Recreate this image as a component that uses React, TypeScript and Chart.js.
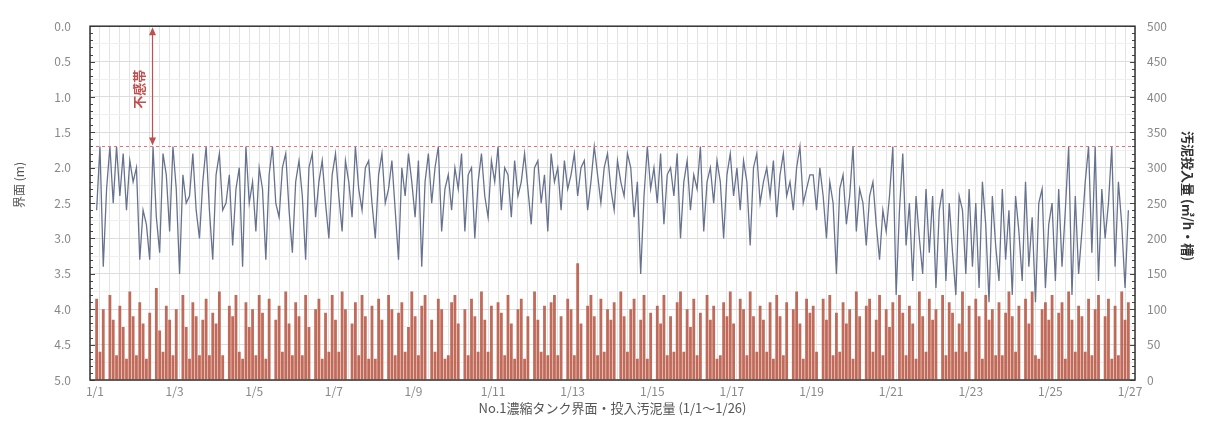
import { useEffect, useRef } from 'react';
import { Chart, registerables } from 'chart.js';

Chart.register(...registerables);

// Readings are taken every 2 hours (12 per day) from 1/1 to 1/26
const SAMPLES_PER_DAY = 12;
const DAY_COUNT = 26;

// X axis tick labels, one every two days
const xTickLabels = ['1/1', '1/3', '1/5', '1/7', '1/9', '1/11', '1/13', '1/15', '1/17', '1/19', '1/21', '1/23', '1/25', '1/27'];

// Interface level of No.1 thickener (m), one row per day
const interfaceLevel: number[] = [
  2.6, 1.7, 3.4, 2.3, 1.7, 2.5, 1.7, 2.4, 1.8, 2.6, 1.9, 2.2,
  2.0, 3.3, 2.6, 2.8, 3.3, 1.7, 2.7, 3.2, 1.8, 2.1, 2.9, 1.7,
  2.3, 3.5, 2.1, 2.5, 2.4, 1.8, 2.6, 3.0, 2.2, 1.7, 2.6, 3.3,
  2.1, 1.8, 2.6, 2.5, 2.1, 3.1, 2.3, 2.0, 3.4, 1.7, 2.5, 2.2,
  2.9, 2.0, 2.3, 3.3, 2.1, 1.7, 2.5, 2.7, 2.0, 1.8, 2.6, 3.2,
  2.2, 1.9, 2.4, 3.3, 2.0, 1.8, 2.7, 2.2, 1.9, 2.5, 3.0, 2.1,
  1.8, 2.4, 2.9, 1.9, 2.2, 2.7, 1.7, 2.3, 2.6, 2.0, 1.9, 2.5,
  3.0, 2.1, 1.8, 2.5, 2.3, 1.9, 2.6, 3.3, 2.0, 2.4, 1.8, 2.2,
  2.7, 1.9, 3.4, 2.2, 1.8, 2.5, 2.0, 1.7, 2.9, 2.3, 2.1, 2.6,
  2.0, 2.3, 1.8, 2.9, 2.1, 2.0, 3.0, 2.2, 1.8, 2.4, 2.7, 1.9,
  2.2, 1.7, 2.6, 2.0, 2.1, 2.7, 1.9, 2.4, 2.2, 1.8, 2.3, 2.8,
  2.0, 1.9, 2.5, 2.1, 2.9, 1.8, 2.2, 2.0, 2.6, 1.9, 2.3, 2.1,
  1.8, 2.4, 2.0, 1.9, 2.6, 2.2, 1.7, 2.1, 2.5, 2.0, 1.8, 2.3,
  2.6, 1.9, 2.2, 2.4, 1.8, 2.0, 2.7, 2.2, 3.5, 2.4, 1.7, 2.3,
  2.0, 2.5, 1.8, 2.8, 2.1, 2.0, 2.4, 1.8, 3.0, 2.2, 1.9, 2.6,
  2.1, 2.3, 1.7, 2.9, 2.2, 2.0, 2.5, 1.9, 2.2, 3.0, 2.1, 1.8,
  2.4, 2.0, 2.6, 1.9, 2.2, 3.1, 2.0, 1.8, 2.5, 2.2, 2.0, 2.4,
  1.9, 2.7, 2.1, 1.8, 2.4, 2.2, 2.6, 2.0, 1.7, 2.5, 2.3, 2.1,
  2.1, 2.6, 2.0, 2.4, 3.0, 2.2, 2.5, 3.5, 2.3, 2.1, 2.8, 2.4,
  1.7, 2.9, 2.3, 2.5, 3.1, 2.4, 2.2, 2.8, 3.3, 2.6, 2.9, 2.4,
  1.7, 3.8, 2.6, 1.8, 3.1, 2.5, 3.6, 2.4, 3.0, 3.5, 2.3, 3.2,
  2.4, 3.7, 2.6, 2.3, 3.6, 2.5, 3.2, 3.8, 2.4, 2.6, 3.5, 2.3,
  3.4, 2.5, 3.7, 2.2, 2.8, 3.9, 2.4, 3.1, 3.6, 2.3, 3.3, 2.6,
  3.8, 2.4, 2.9, 3.6, 2.2, 3.4, 2.7, 3.9, 2.5, 2.3, 3.7, 2.8,
  2.5, 3.6, 2.3, 3.4, 2.6, 1.7, 3.8, 2.4, 3.5, 2.9, 2.2, 1.7,
  3.2, 1.7, 3.6, 2.3, 3.0, 2.5, 1.7, 3.4, 2.2, 2.8, 3.7, 2.6,
];

// Sludge fed to the tank (m3/h per tank), one row per day
const sludgeInput: number[] = [
  115, 40, 100, 0, 120, 85, 35, 105, 75, 30, 125, 90,
  35, 110, 80, 30, 95, 0, 130, 70, 40, 105, 85, 35,
  100, 0, 120, 75, 30, 110, 90, 35, 85, 115, 35, 95,
  80, 125, 35, 0, 105, 90, 120, 40, 30, 110, 75, 100,
  35, 120, 95, 30, 115, 0, 85, 105, 40, 125, 80, 35,
  110, 90, 35, 120, 75, 0, 100, 115, 30, 95, 40, 120,
  85, 40, 125, 100, 0, 80, 110, 35, 120, 90, 30, 105,
  30, 115, 85, 0, 120, 100, 35, 95, 110, 40, 75, 125,
  90, 35, 105, 120, 0, 85, 40, 115, 100, 30, 35, 110,
  120, 80, 0, 100, 35, 115, 90, 40, 125, 85, 40, 105,
  0, 110, 95, 35, 120, 80, 30, 100, 115, 30, 90, 0,
  125, 85, 40, 105, 35, 110, 120, 35, 90, 0, 115, 100,
  35, 165, 80, 0, 105, 120, 90, 35, 115, 40, 100, 85,
  110, 0, 125, 90, 40, 100, 115, 30, 85, 120, 30, 95,
  0, 105, 80, 120, 35, 90, 40, 110, 125, 40, 100, 75,
  115, 35, 95, 0, 120, 85, 105, 30, 35, 110, 90, 125,
  80, 0, 115, 100, 35, 125, 90, 40, 105, 85, 40, 110,
  30, 120, 90, 35, 110, 0, 100, 125, 80, 30, 115, 95,
  105, 40, 0, 115, 85, 120, 35, 95, 40, 110, 80, 100,
  30, 125, 90, 0, 105, 115, 40, 85, 120, 35, 100, 75,
  110, 0, 120, 95, 35, 105, 80, 30, 125, 90, 40, 115,
  85, 100, 0, 120, 35, 110, 95, 40, 80, 125, 40, 105,
  0, 115, 90, 30, 120, 85, 100, 35, 110, 35, 95, 125,
  90, 40, 105, 0, 115, 80, 125, 35, 30, 100, 110, 85,
  120, 0, 95, 110, 30, 125, 85, 40, 105, 90, 40, 115,
  35, 100, 120, 0, 90, 115, 30, 105, 35, 125, 85, 110,
];

// Upper limit of the measurable range (dead band of the level meter)
const DEAD_BAND_LIMIT = 1.7;
const DEAD_BAND_LABEL = '不感帯';
const DEAD_BAND_ARROW_DAY = 1.44;

const LEFT_TITLE = '界面 (m)';
const RIGHT_TITLE = '汚泥投入量 (㎥/h・槽)';
const BOTTOM_TITLE = 'No.1濃縮タンク界面・投入汚泥量 (1/1～1/26)';

const FONT = '"Noto Sans CJK JP", "Noto Sans", sans-serif';

const toXY = (values: number[]) =>
  values.map((v, i) => ({ x: (i + 0.5) / SAMPLES_PER_DAY, y: v }));

const decorations = {
  id: 'decorations',
  afterDatasetsDraw(chart: any) {
    const { ctx, chartArea: a, scales } = chart;
    const ys = scales.y;
    const xs = scales.x;
    const yLimit = ys.getPixelForValue(DEAD_BAND_LIMIT);
    const yTop = ys.getPixelForValue(0);

    ctx.save();
    // dashed limit line
    ctx.strokeStyle = '#e57373';
    ctx.lineWidth = 1;
    ctx.setLineDash([3, 3]);
    ctx.beginPath();
    ctx.moveTo(a.left, yLimit);
    ctx.lineTo(a.right, yLimit);
    ctx.stroke();
    ctx.setLineDash([]);

    // double-headed arrow over the dead band
    const xa = Math.round(xs.getPixelForValue(DEAD_BAND_ARROW_DAY)) + 0.5;
    ctx.strokeStyle = '#c0504d';
    ctx.fillStyle = '#c0504d';
    ctx.lineWidth = 1.2;
    ctx.beginPath();
    ctx.moveTo(xa, yTop + 4);
    ctx.lineTo(xa, yLimit - 4);
    ctx.stroke();
    const head = (tipY: number, dir: number) => {
      ctx.beginPath();
      ctx.moveTo(xa, tipY);
      ctx.lineTo(xa - 3.5, tipY + dir * 8);
      ctx.lineTo(xa + 3.5, tipY + dir * 8);
      ctx.closePath();
      ctx.fill();
    };
    head(yTop + 1, 1);
    head(yLimit - 1, -1);

    ctx.translate(xa - 13, (yTop + yLimit) / 2 + 3);
    ctx.rotate(-Math.PI / 2);
    ctx.font = `bold 13px ${FONT}`;
    ctx.textAlign = 'center';
    ctx.textBaseline = 'middle';
    ctx.fillText(DEAD_BAND_LABEL, 0, 0);
    ctx.restore();
  },
  afterDraw(chart: any) {
    const { ctx, chartArea: a, scales } = chart;
    const ys = scales.y;
    const y1 = scales.y1;
    ctx.save();

    // minor tick marks on the inner side of both value axes
    ctx.strokeStyle = '#444';
    ctx.lineWidth = 1;
    for (let i = 0; i <= 50; i++) {
      const py = Math.round(ys.getPixelForValue(i / 10)) + 0.5;
      const len = i % 5 === 0 ? 5 : 3;
      ctx.beginPath();
      ctx.moveTo(a.left, py);
      ctx.lineTo(a.left + len, py);
      ctx.stroke();
    }
    for (let i = 0; i <= 50; i++) {
      const py = Math.round(y1.getPixelForValue(i * 10)) + 0.5;
      const len = i % 5 === 0 ? 5 : 3;
      ctx.beginPath();
      ctx.moveTo(a.right, py);
      ctx.lineTo(a.right - len, py);
      ctx.stroke();
    }

    // plot frame
    ctx.strokeStyle = '#333';
    ctx.lineWidth = 1.5;
    ctx.strokeRect(a.left, a.top, a.right - a.left, a.bottom - a.top);

    // axis titles
    ctx.fillStyle = '#555';
    ctx.textAlign = 'center';
    ctx.textBaseline = 'middle';
    ctx.font = `12px ${FONT}`;
    ctx.save();
    ctx.translate(19, 185);
    ctx.rotate(-Math.PI / 2);
    ctx.fillText(LEFT_TITLE, 0, 0);
    ctx.restore();

    ctx.save();
    ctx.fillStyle = '#333';
    ctx.font = `bold 13px ${FONT}`;
    ctx.translate(1188, 196);
    ctx.rotate(Math.PI / 2);
    ctx.fillText(RIGHT_TITLE, 0, 0);
    ctx.restore();

    ctx.font = `13px ${FONT}`;
    ctx.fillStyle = '#555';
    ctx.fillText(BOTTOM_TITLE, (a.left + a.right) / 2, 408);
    ctx.restore();
  },
};

export default function App() {
  const canvasRef = useRef<HTMLCanvasElement | null>(null);

  useEffect(() => {
    if (!canvasRef.current) return;
    const chart = new Chart(canvasRef.current, {
      type: 'bar',
      data: {
        datasets: [
          {
            type: 'line',
            label: LEFT_TITLE,
            data: toXY(interfaceLevel),
            yAxisID: 'y',
            borderColor: '#66728f',
            borderWidth: 1.3,
            pointRadius: 0,
            tension: 0,
            order: 1,
          } as any,
          {
            type: 'bar',
            label: RIGHT_TITLE,
            data: toXY(sludgeInput),
            yAxisID: 'y1',
            backgroundColor: 'rgba(184, 88, 68, 0.88)',
            borderWidth: 0,
            barPercentage: 1,
            categoryPercentage: 0.85,
            order: 2,
          } as any,
        ],
      },
      options: {
        animation: false,
        responsive: false,
        maintainAspectRatio: false,
        layout: { padding: { top: 18, left: 0, right: 0, bottom: 0 } },
        plugins: {
          legend: { display: false },
          tooltip: { enabled: false },
          title: { display: false },
        },
        scales: {
          x: {
            type: 'linear',
            min: 0,
            max: DAY_COUNT,
            afterFit: (s: any) => {
              s.height = 57;
            },
            grid: {
              color: '#e3e3e3',
              lineWidth: 1,
              drawTicks: false,
            },
            border: { display: false },
            ticks: {
              stepSize: 0.25,
              autoSkip: false,
              maxRotation: 0,
              padding: 4,
              color: '#888',
              font: { family: FONT, size: 12 },
              callback: (v: any) => {
                const d = Number(v);
                if (Math.abs(d % 2) > 1e-6) return '';
                return xTickLabels[Math.round(d / 2)] ?? '';
              },
            },
          },
          y: {
            type: 'linear',
            position: 'left',
            reverse: true,
            min: 0,
            max: 5,
            afterFit: (s: any) => {
              s.width = 90;
            },
            grid: {
              color: (c: any) => (Math.abs((c.tick?.value ?? 0) % 0.5) < 1e-6 ? '#dcdcdc' : '#efefef'),
              drawTicks: false,
            },
            border: { display: false },
            ticks: {
              stepSize: 0.25,
              autoSkip: false,
              padding: 19,
              color: '#888',
              font: { family: FONT, size: 12 },
              callback: (v: any) => {
                const n = Number(v);
                return Math.abs(n % 0.5) < 1e-6 ? n.toFixed(1) : '';
              },
            },
          },
          y1: {
            type: 'linear',
            position: 'right',
            min: 0,
            max: 500,
            afterFit: (s: any) => {
              s.width = 71;
            },
            grid: { drawOnChartArea: false, drawTicks: false },
            border: { display: false },
            ticks: {
              stepSize: 50,
              padding: 12,
              color: '#888',
              font: { family: FONT, size: 12 },
            },
          },
        },
      },
      plugins: [decorations],
    });
    return () => chart.destroy();
  }, []);

  return (
    <div style={{ position: 'fixed', left: 0, top: 0, width: 1206, height: 437, background: '#fff' }}>
      <canvas ref={canvasRef} width={1206} height={437} style={{ display: 'block' }} />
    </div>
  );
}
